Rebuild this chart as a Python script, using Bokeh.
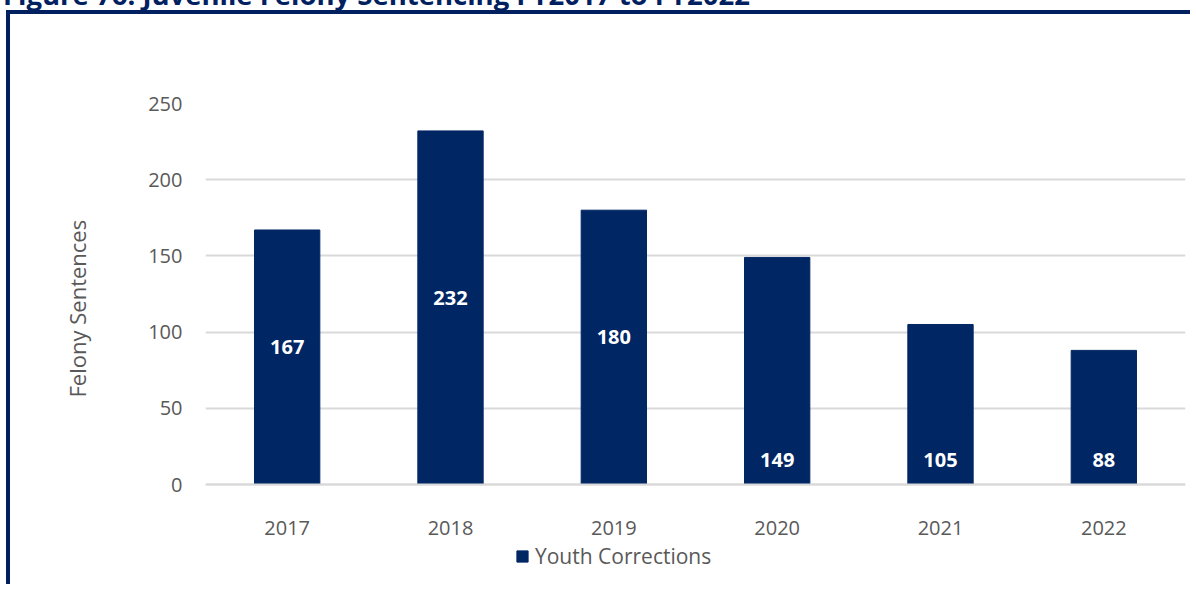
from bokeh.plotting import figure
from bokeh.models import Div, Range1d, Legend, LegendItem, ColumnDataSource, Title
from bokeh.layouts import column
from bokeh.core.properties import value
from bokeh.embed import file_html
from bokeh.resources import INLINE

# ---- data ----
title_text = "Figure 76: Juvenile Felony Sentencing FY2017 to FY2022"
years = ["2017", "2018", "2019", "2020", "2021", "2022"]
youth_corrections = [167, 232, 180, 149, 105, 88]
label_position = ["mid", "mid", "mid", "base", "base", "base"]
series_name = "Youth Corrections"
y_title = "Felony Sentences"
y_ticks = [0, 50, 100, 150, 200, 250]
y_max = 250

# ---- styles / layout ----
NAVY = "#002060"
BAR = "#002664"
GRAY = "#595959"
GRID = "#d9d9d9"
FONT = "Open Sans"
PX_PER_UNIT = 381 / 250          # plot-area scale of the reference
FRAME_H = 473                      # frame extends below 0 to hold the legend
y_start = y_max - FRAME_H / PX_PER_UNIT

label_y = [v / 2 if pos == "mid" else 0 for v, pos in zip(youth_corrections, label_position)]
label_off = [-10 if pos == "mid" else -25 for pos in label_position]

src = ColumnDataSource(dict(year=years, val=youth_corrections,
                            ly=label_y, loff=label_off,
                            txt=[str(v) for v in youth_corrections]))

p = figure(x_range=years, y_range=Range1d(y_start, y_max), width=1184, height=574,
           output_backend="svg", toolbar_location=None,
           min_border_left=195, min_border_right=9,
           min_border_top=89, min_border_bottom=12,
           margin=(0, 0, 0, 6),
           styles={"border-left": f"4px solid {NAVY}", "border-top": f"4px solid {NAVY}"})
p.outline_line_color = None
p.background_fill_color = "white"
p.border_fill_color = "white"

r = p.vbar(x="year", top="val", width=0.4, source=src, fill_color=BAR, line_color=BAR)

p.text(x="year", y="ly", text="txt", y_offset="loff", source=src,
       text_align="center", text_baseline="middle",
       text_color="white", text_font=value(FONT), text_font_style="bold",
       text_font_size="20px")

# axes
p.xgrid.grid_line_color = None
p.ygrid.grid_line_color = GRID
p.ygrid.grid_line_width = 2
p.yaxis.ticker = y_ticks
p.yaxis.axis_line_color = None
p.yaxis.major_tick_line_color = None
p.yaxis.minor_tick_line_color = None
p.yaxis.major_label_standoff = 17

p.xaxis.fixed_location = 0
p.xaxis.axis_line_color = GRID
p.xaxis.axis_line_width = 2
p.xaxis.major_tick_line_color = None
p.xaxis.minor_tick_line_color = None
p.xaxis.major_label_standoff = 30

for ax in (p.xaxis, p.yaxis):
    ax.major_label_text_font = FONT
    ax.major_label_text_font_size = "20px"
    ax.major_label_text_color = GRAY

ytitle = Title(text=y_title, align="left", vertical_align="top",
               offset=179, standoff=103,
               text_font=FONT, text_font_size="22px", text_font_style="normal",
               text_color=GRAY)
p.add_layout(ytitle, "left")

legend = Legend(items=[LegendItem(label=series_name, renderers=[r])],
                location=(310, 6), orientation="horizontal",
                glyph_width=14, glyph_height=14, label_standoff=6,
                padding=0, margin=0, border_line_alpha=0,
                background_fill_alpha=0,
                label_text_font=FONT, label_text_font_size="21px",
                label_text_color=GRAY)
p.add_layout(legend, "center")

div = Div(text=title_text, width=1180, height=29, margin=(-19, 0, 0, 0),
          styles={"font-family": FONT, "font-weight": "bold", "font-size": "27.5px",
                  "line-height": "27px", "color": NAVY, "white-space": "nowrap",
                  "padding-left": "3px"})

layout = column(div, p, spacing=0)
open("out.html", "w").write(file_html(layout, INLINE))
